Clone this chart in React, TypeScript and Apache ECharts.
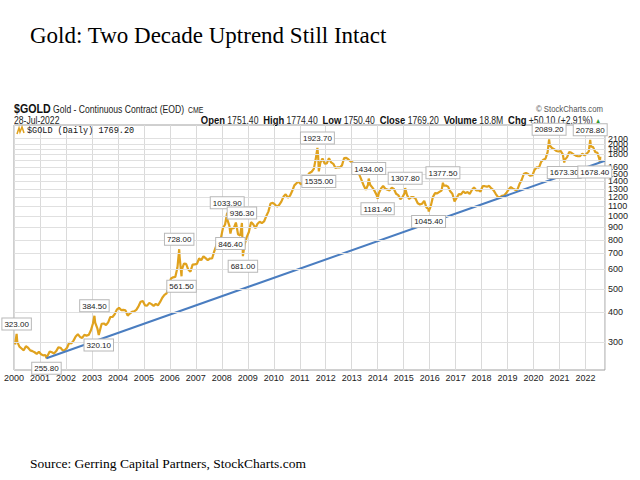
import React, { useEffect, useRef } from "react";
import * as echarts from "echarts";

// ---------- data ----------
const years = [2000, 2001, 2002, 2003, 2004, 2005, 2006, 2007, 2008, 2009, 2010, 2011, 2012, 2013, 2014, 2015, 2016, 2017, 2018, 2019, 2020, 2021, 2022];

const gold2000 = [292, 300, 286, 281, 276, 287, 283, 276, 274, 271, 267, 272];
const gold2001 = [266, 263, 264, 262, 273, 271, 268, 274, 284, 283, 276, 277];
const gold2002 = [283, 297, 295, 303, 315, 322, 314, 311, 320, 318, 320, 334];
const gold2003 = [358, 360, 341, 329, 356, 357, 352, 361, 380, 380, 390, 408];
const gold2004 = [415, 406, 407, 405, 385, 393, 399, 401, 407, 421, 440, 443];
const gold2005 = [425, 424, 435, 430, 423, 431, 425, 439, 457, 470, 477, 511];
const gold2006 = [550, 556, 558, 611, 677, 597, 634, 633, 599, 587, 628, 630];
const gold2007 = [632, 666, 656, 680, 668, 656, 666, 666, 713, 755, 807, 804];
const gold2008 = [890, 923, 969, 910, 889, 890, 940, 840, 830, 807, 761, 817];
const gold2009 = [859, 944, 925, 891, 929, 947, 935, 950, 998, 1044, 1128, 1135];
const gold2010 = [1118, 1096, 1114, 1149, 1206, 1233, 1194, 1216, 1272, 1343, 1371, 1392];
const gold2011 = [1357, 1373, 1425, 1475, 1513, 1530, 1573, 1757, 1773, 1666, 1740, 1653];
const gold2012 = [1657, 1743, 1674, 1651, 1586, 1597, 1595, 1627, 1745, 1748, 1722, 1689];
const gold2013 = [1671, 1628, 1594, 1488, 1415, 1344, 1287, 1348, 1350, 1317, 1276, 1226];
const gold2014 = [1245, 1301, 1337, 1300, 1289, 1280, 1312, 1297, 1239, 1223, 1177, 1201];
const gold2015 = [1251, 1228, 1179, 1199, 1200, 1182, 1132, 1118, 1126, 1158, 1087, 1069];
const gold2016 = [1098, 1201, 1247, 1243, 1261, 1277, 1338, 1341, 1327, 1268, 1239, 1152];
const gold2017 = [1193, 1235, 1232, 1267, 1247, 1261, 1237, 1284, 1316, 1281, 1283, 1266];
const gold2018 = [1332, 1332, 1326, 1336, 1304, 1283, 1239, 1203, 1199, 1216, 1222, 1251];
const gold2019 = [1292, 1321, 1302, 1287, 1285, 1360, 1414, 1501, 1511, 1496, 1472, 1481];
const gold2020 = [1561, 1598, 1592, 1684, 1717, 1733, 1847, 1969, 1922, 1901, 1867, 1859];
const gold2021 = [1868, 1809, 1719, 1761, 1851, 1835, 1808, 1786, 1776, 1778, 1821, 1791];
const gold2022 = [1818, 1857, 1949, 1938, 1850, 1837, 1712];

const goldMonthly = [gold2000, gold2001, gold2002, gold2003, gold2004, gold2005, gold2006, gold2007, gold2008, gold2009, gold2010, gold2011, gold2012, gold2013, gold2014, gold2015, gold2016, gold2017, gold2018, gold2019, gold2020, gold2021, gold2022];

// labelled swing highs / lows
const swingDates = ["2000-02-07", "2001-04-02", "2003-02-05", "2003-04-07", "2006-05-12", "2006-06-14", "2008-03-17", "2008-05-01", "2008-10-10", "2008-10-24", "2011-09-06", "2011-09-26", "2013-08-28", "2013-12-31", "2015-01-22", "2015-12-17", "2016-07-06", "2020-08-07", "2021-03-08", "2022-03-08", "2022-07-21"];
const swingValues = [323.0, 255.8, 384.5, 320.1, 728.0, 561.5, 1033.9, 846.4, 936.3, 681.0, 1923.7, 1535.0, 1434.0, 1181.4, 1307.8, 1045.4, 1377.5, 2089.2, 1673.3, 2078.8, 1678.4];
const swingSides = ["top", "bottom", "top", "bottom", "top", "bottom", "top", "bottom", "top", "bottom", "top", "bottom", "top", "bottom", "top", "bottom", "top", "top", "bottom", "top", "bottom"];

const lastDate = "2022-07-28";
const lastClose = 1769.2;

const trendDates = ["2001-04-02", "2022-09-30"];
const trendValues = [255.8, 1700];

// gridline values; the 1700 label is hidden under the last-close box in the reference
const yTicks = [300, 400, 500, 600, 700, 800, 900, 1000, 1100, 1200, 1300, 1400, 1500, 1600, 1700, 1800, 1900, 2000, 2100];
const yTicksHiddenLabel = [1700];

const xMin = 2000;
const xMax = 2022.75;
const yMin = 228.6;
const yMax = 2396;

// ---------- helpers ----------
const GOLD = "#E0A21E";
const BLUE = "#4A7DC0";
const SANS = '"Liberation Sans", Arial, sans-serif';
const NARROW_SCALE = 0.82;

function toYear(d: string): number {
  const [y, m, dd] = d.split("-").map(Number);
  const s = Date.UTC(y, 0, 1);
  const e = Date.UTC(y + 1, 0, 1);
  return y + (Date.UTC(y, m - 1, dd) - s) / (e - s);
}

function buildGoldLine(): number[][] {
  const pts: number[][] = [];
  goldMonthly.forEach((arr, i) => {
    arr.forEach((v, m) => pts.push([years[i] + (m + 0.5) / 12, v]));
  });
  swingDates.forEach((d, i) => pts.push([toYear(d), swingValues[i]]));
  pts.push([toYear(lastDate), lastClose]);
  pts.sort((a, b) => a[0] - b[0]);
  return pts.map(([x, v]) => [x, Math.log(v)]);
}

function narrowText(x: number, y: number, text: string, font: string, fill: string, align: string, extra: any = {}) {
  return {
    type: "text",
    x,
    y,
    scaleX: NARROW_SCALE,
    style: {
      text,
      font,
      fill,
      align,
      textAlign: align,
      verticalAlign: "middle",
      textVerticalAlign: "middle",
      ...extra,
    },
  };
}

export default function App() {
  const ref = useRef<HTMLDivElement>(null);

  useEffect(() => {
    if (!ref.current) return;
    const chart = echarts.init(ref.current, undefined, { renderer: "svg" });

    const goldLine = buildGoldLine();
    const trendLine = trendDates.map((d, i) => [toYear(d), Math.log(trendValues[i])]);

    const lastIdx = swingDates.length - 1;

    const option: any = {
      animation: false,
      backgroundColor: "#ffffff",
      grid: {
        left: 14,
        right: 35,
        top: 125,
        bottom: 110,
        show: true,
        borderColor: "#a0a0a0",
        borderWidth: 1,
        backgroundColor: "#ffffff",
      },
      xAxis: {
        type: "value",
        min: xMin,
        max: xMax,
        interval: 1,
        axisLine: { show: false },
        axisTick: { show: false },
        splitLine: { show: true, lineStyle: { color: "#dadada", width: 1 } },
        axisLabel: {
          fontSize: 9,
          color: "#222",
          fontFamily: SANS,
          margin: 3,
          formatter: (v: number) => (Math.abs(v - Math.round(v)) < 1e-6 ? String(Math.round(v)) : ""),
        },
      },
      yAxis: {
        type: "value",
        position: "right",
        min: Math.log(yMin),
        max: Math.log(yMax),
        axisLine: { show: false },
        axisTick: { show: false },
        axisLabel: { show: false },
        splitLine: { show: false },
      },
      series: [
        {
          type: "line",
          data: [],
          z: 1,
          silent: true,
          markLine: {
            symbol: "none",
            silent: true,
            animation: false,
            lineStyle: { color: "#e0e0e0", type: "solid", width: 1 },
            label: { position: "end", distance: 3, fontSize: 9, color: "#222", fontFamily: SANS },
            data: yTicks.map((v) => ({
              yAxis: Math.log(v),
              label: { show: !yTicksHiddenLabel.includes(v), formatter: String(v) },
            })),
          },
        },
        {
          type: "line",
          data: goldLine,
          z: 3,
          symbol: "none",
          showSymbol: false,
          lineStyle: { color: GOLD, width: 2.2 },
          itemStyle: { color: GOLD },
          markPoint: {
            symbol: "rect",
            symbolSize: 1,
            silent: true,
            animation: false,
            itemStyle: { color: "rgba(0,0,0,0)" },
            label: {
              show: true,
              fontSize: 8,
              fontFamily: SANS,
              color: "#222",
              backgroundColor: "#ffffff",
              borderColor: "#b8b8b8",
              borderWidth: 1,
              padding: [2, 2, 1, 2],
              distance: 4,
            },
            data: swingDates.map((d, i) => ({
              coord: [toYear(d), Math.log(swingValues[i])],
              label: {
                position: swingSides[i],
                formatter: swingValues[i].toFixed(2),
                offset: i === lastIdx ? [-5, 0] : [0, 0],
              },
            })),
          },
          markLine: {
            symbol: "none",
            silent: true,
            animation: false,
            lineStyle: { opacity: 0 },
            data: [
              {
                yAxis: Math.log(lastClose),
                label: {
                  position: "end",
                  distance: 0,
                  formatter: lastClose.toFixed(2),
                  fontSize: 8.5,
                  fontWeight: "bold",
                  fontFamily: SANS,
                  color: "#111",
                  backgroundColor: "#ffffff",
                  borderColor: GOLD,
                  borderWidth: 1.5,
                  padding: [2, 1, 1, 1],
                },
              },
            ],
          },
        },
        {
          type: "line",
          data: trendLine,
          z: 4,
          symbol: "none",
          showSymbol: false,
          lineStyle: { color: BLUE, width: 2 },
        },
      ],
      graphic: [
        {
          type: "text",
          x: 30,
          y: 35,
          style: {
            text: "Gold: Two Decade Uptrend Still Intact",
            font: '23px "Liberation Serif", "Times New Roman", serif',
            fill: "#000",
            verticalAlign: "middle",
            textVerticalAlign: "middle",
          },
        },
        narrowText(14, 109, "$GOLD", "bold 13px " + SANS, "#111", "left"),
        narrowText(53, 109, "Gold - Continuous Contract (EOD)", "10.5px " + SANS, "#222", "left"),
        narrowText(188, 110, "CME", "8.5px " + SANS, "#222", "left"),
        narrowText(603, 109, "\u00A9 StockCharts.com", "9.5px " + SANS, "#555", "right"),
        narrowText(14, 120, "28-Jul-2022", "10.5px " + SANS, "#222", "left"),
        narrowText(
          601,
          120,
          "{b|Open} 1751.40  {b|High} 1774.40  {b|Low} 1750.40  {b|Close} 1769.20  {b|Volume} 18.8M  {b|Chg} +50.10 (+2.91%) {g|\u25B2}",
          "10.5px " + SANS,
          "#222",
          "right",
          {
            rich: {
              b: { font: "bold 11.5px " + SANS, fill: "#111" },
              g: { font: "7px " + SANS, fill: "#2e9a2e" },
            },
          }
        ),
        {
          type: "polyline",
          shape: { points: [[17, 134], [19, 128], [20, 132], [22, 127], [24, 133]] },
          style: { stroke: GOLD, lineWidth: 1.5, fill: "none" },
          z: 10,
        },
        {
          type: "text",
          x: 27,
          y: 131,
          z: 10,
          style: {
            text: "$GOLD (Daily) 1769.20",
            font: '8.5px "Liberation Mono", "DejaVu Sans Mono", monospace',
            fill: "#111",
            verticalAlign: "middle",
            textVerticalAlign: "middle",
          },
        },
        {
          type: "text",
          x: 30,
          y: 463,
          style: {
            text: "Source: Gerring Capital Partners, StockCharts.com",
            font: '13.5px "Liberation Serif", "Times New Roman", serif',
            fill: "#000",
            verticalAlign: "middle",
            textVerticalAlign: "middle",
          },
        },
      ],
    };

    chart.setOption(option);
    return () => chart.dispose();
  }, []);

  return (
    <div
      ref={ref}
      style={{ position: "absolute", left: 0, top: 0, width: 640, height: 480, background: "#fff" }}
    />
  );
}
